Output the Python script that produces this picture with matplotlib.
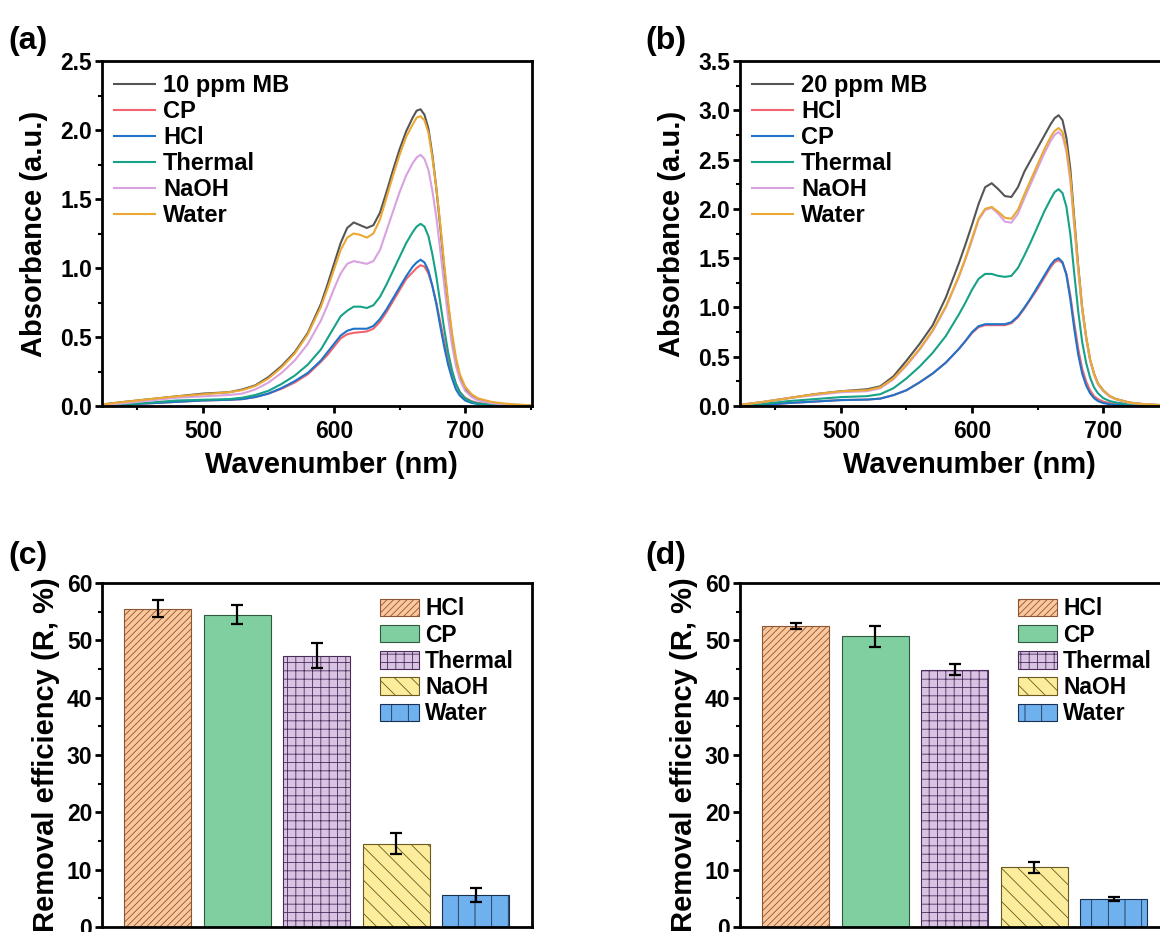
import matplotlib
matplotlib.use("Agg")
import matplotlib.pyplot as plt
from matplotlib.ticker import MultipleLocator, FormatStrFormatter

plt.rcParams['font.family'] = ['Liberation Sans', 'DejaVu Sans']
plt.rcParams['font.weight'] = 'bold'
plt.rcParams['hatch.linewidth'] = 0.6

# ---------------- data ----------------
wl = [422, 440, 460, 480, 500, 520, 530, 540, 550, 560, 570, 580, 590, 595, 600, 605, 610, 615, 620,
      625, 630, 635, 640, 645, 650, 655, 660, 663, 666, 669, 672, 675, 678, 681, 684, 687, 690, 693,
      696, 700, 705, 710, 720, 730, 740, 752]

# panel (a): 10 ppm
a_mb = [0.01, 0.03, 0.05, 0.07, 0.09, 0.10, 0.12, 0.15, 0.21, 0.29, 0.39, 0.53, 0.74, 0.88, 1.03, 1.18, 1.29, 1.33,
        1.31, 1.29, 1.31, 1.40, 1.55, 1.71, 1.86, 1.99, 2.09, 2.14, 2.15, 2.11, 2.01, 1.82, 1.58, 1.30, 1.00, 0.73,
        0.50, 0.32, 0.21, 0.12, 0.07, 0.045, 0.02, 0.012, 0.008, 0.005]
a_cp = [0.003, 0.01, 0.02, 0.03, 0.04, 0.045, 0.05, 0.065, 0.09, 0.125, 0.17, 0.23, 0.32, 0.37, 0.43, 0.49, 0.52, 0.53,
        0.535, 0.54, 0.56, 0.61, 0.68, 0.76, 0.84, 0.92, 0.97, 1.00, 1.02, 1.01, 0.96, 0.87, 0.75, 0.61, 0.47, 0.34,
        0.24, 0.16, 0.10, 0.06, 0.035, 0.022, 0.012, 0.007, 0.004, 0.002]
a_hcl = [0.003, 0.01, 0.02, 0.03, 0.04, 0.045, 0.05, 0.065, 0.09, 0.13, 0.18, 0.24, 0.33, 0.39, 0.45, 0.51, 0.545, 0.56,
         0.56, 0.56, 0.58, 0.63, 0.70, 0.78, 0.86, 0.94, 1.01, 1.04, 1.06, 1.04, 0.98, 0.87, 0.74, 0.58, 0.43, 0.30,
         0.20, 0.12, 0.075, 0.04, 0.022, 0.014, 0.008, 0.005, 0.003, 0.002]
a_thermal = [0.005, 0.01, 0.025, 0.04, 0.045, 0.05, 0.06, 0.08, 0.11, 0.16, 0.22, 0.30, 0.41, 0.49, 0.57, 0.65, 0.69,
             0.72, 0.72, 0.71, 0.73, 0.79, 0.88, 0.98, 1.08, 1.18, 1.26, 1.30, 1.32, 1.30, 1.23, 1.10, 0.94, 0.75,
             0.56, 0.39, 0.26, 0.16, 0.10, 0.055, 0.03, 0.018, 0.01, 0.006, 0.004, 0.002]
a_naoh = [0.005, 0.02, 0.04, 0.06, 0.07, 0.08, 0.09, 0.12, 0.17, 0.24, 0.33, 0.45, 0.62, 0.73, 0.85, 0.96, 1.03, 1.05,
          1.04, 1.03, 1.05, 1.13, 1.27, 1.41, 1.55, 1.67, 1.76, 1.80, 1.82, 1.79, 1.71, 1.56, 1.37, 1.13, 0.88, 0.64,
          0.44, 0.29, 0.19, 0.11, 0.065, 0.04, 0.02, 0.012, 0.008, 0.004]
a_water = [0.01, 0.03, 0.05, 0.07, 0.085, 0.10, 0.115, 0.145, 0.20, 0.28, 0.38, 0.52, 0.72, 0.85, 0.99, 1.13, 1.22,
           1.25, 1.24, 1.22, 1.25, 1.35, 1.51, 1.67, 1.82, 1.95, 2.04, 2.09, 2.10, 2.07, 1.98, 1.80, 1.58, 1.32, 1.03,
           0.76, 0.53, 0.35, 0.23, 0.14, 0.085, 0.055, 0.03, 0.018, 0.01, 0.005]

# panel (b): 20 ppm
b_mb = [0.01, 0.04, 0.08, 0.12, 0.15, 0.17, 0.20, 0.30, 0.46, 0.63, 0.82, 1.10, 1.45, 1.64, 1.84, 2.05, 2.22, 2.26,
        2.20, 2.13, 2.12, 2.22, 2.38, 2.50, 2.62, 2.74, 2.86, 2.92, 2.95, 2.90, 2.72, 2.40, 1.90, 1.42, 1.00, 0.70,
        0.47, 0.33, 0.23, 0.16, 0.10, 0.07, 0.035, 0.02, 0.012, 0.006]
b_hcl = [0.003, 0.01, 0.03, 0.045, 0.06, 0.065, 0.075, 0.11, 0.16, 0.24, 0.33, 0.44, 0.58, 0.66, 0.74, 0.80, 0.82, 0.82,
         0.82, 0.82, 0.84, 0.90, 0.99, 1.09, 1.19, 1.30, 1.41, 1.46, 1.48, 1.45, 1.34, 1.12, 0.84, 0.58, 0.38, 0.25,
         0.16, 0.10, 0.07, 0.045, 0.028, 0.018, 0.01, 0.006, 0.004, 0.002]
b_cp = [0.003, 0.01, 0.03, 0.045, 0.06, 0.065, 0.075, 0.11, 0.16, 0.24, 0.33, 0.44, 0.58, 0.66, 0.75, 0.81, 0.83, 0.83,
        0.83, 0.83, 0.85, 0.91, 1.00, 1.10, 1.21, 1.32, 1.43, 1.48, 1.50, 1.46, 1.33, 1.08, 0.78, 0.52, 0.33, 0.21,
        0.13, 0.08, 0.05, 0.03, 0.018, 0.012, 0.007, 0.004, 0.003, 0.002]
b_thermal = [0.005, 0.02, 0.05, 0.07, 0.09, 0.10, 0.12, 0.18, 0.28, 0.40, 0.54, 0.71, 0.93, 1.05, 1.18, 1.29, 1.34,
             1.34, 1.32, 1.31, 1.32, 1.40, 1.53, 1.67, 1.82, 1.97, 2.10, 2.17, 2.20, 2.16, 2.02, 1.74, 1.34, 0.96,
             0.65, 0.44, 0.29, 0.19, 0.13, 0.08, 0.05, 0.035, 0.018, 0.01, 0.006, 0.003]
b_naoh = [0.01, 0.04, 0.08, 0.11, 0.14, 0.15, 0.18, 0.27, 0.41, 0.57, 0.76, 1.00, 1.31, 1.49, 1.68, 1.89, 1.99, 2.01,
          1.95, 1.87, 1.86, 1.95, 2.11, 2.26, 2.41, 2.56, 2.69, 2.75, 2.78, 2.74, 2.58, 2.28, 1.82, 1.37, 0.97, 0.69,
          0.47, 0.32, 0.22, 0.15, 0.095, 0.065, 0.03, 0.02, 0.01, 0.005]
b_water = [0.01, 0.04, 0.08, 0.12, 0.15, 0.16, 0.19, 0.28, 0.42, 0.58, 0.77, 1.01, 1.32, 1.50, 1.70, 1.90, 2.00, 2.02,
           1.97, 1.91, 1.90, 1.99, 2.15, 2.30, 2.45, 2.60, 2.73, 2.79, 2.82, 2.78, 2.62, 2.32, 1.86, 1.40, 1.00, 0.71,
           0.48, 0.33, 0.23, 0.16, 0.10, 0.07, 0.035, 0.02, 0.012, 0.006]

# bar panels
bar_labels = ['HCl', 'CP', 'Thermal', 'NaOH', 'Water']
c_vals = [55.5, 54.5, 47.3, 14.5, 5.6]
c_errs = [1.5, 1.6, 2.2, 1.85, 1.2]
d_vals = [52.5, 50.7, 44.9, 10.4, 4.85]
d_errs = [0.5, 1.8, 0.95, 1.0, 0.3]

# ---------------- style ----------------
col = {'MB': '#555555', 'red': '#f2646e', 'blue': '#1f74c9', 'Thermal': '#17a287',
       'NaOH': '#d8a2e0', 'Water': '#eaa834'}
bar_face = ['#fdc79c', '#80cfa0', '#d9c3e3', '#fbed9c', '#6fb0ef']
bar_edge = ['#8a5634', '#2f5a40', '#4a2c5a', '#6a5a20', '#1a3050']
bar_hatch = ['/////', None, '++', '\\\\', '|']

W, H = 1160, 932
fig = plt.figure(figsize=(W / 100, H / 100), dpi=100)
fig.patch.set_facecolor('white')


def px_axes(left, top, right, bottom):
    return fig.add_axes([left / W, (H - bottom) / H, (right - left) / W, (bottom - top) / H])


def style(ax, major, minor, fmt):
    for s in ax.spines.values():
        s.set_linewidth(2.0)
    ax.yaxis.set_major_locator(MultipleLocator(major))
    ax.yaxis.set_minor_locator(MultipleLocator(minor))
    ax.yaxis.set_major_formatter(FormatStrFormatter(fmt))
    ax.tick_params(which='major', direction='out', length=5, width=2, labelsize=16.5, pad=2)
    ax.tick_params(axis='x', which='major', pad=5)
    ax.tick_params(which='minor', direction='out', length=3, width=1.5)
    ax.tick_params(top=False, right=False, which='both')
    for lab in ax.get_xticklabels() + ax.get_yticklabels():
        lab.set_fontweight('bold')


def spectrum(ax, series, ymax, major):
    for y, c, lab in series:
        ax.plot(wl, y, color=c, lw=1.5, label=lab, solid_joinstyle='round')
    ax.set_xlim(423, 751)
    ax.set_ylim(0, ymax)
    ax.xaxis.set_major_locator(MultipleLocator(100))
    ax.xaxis.set_minor_locator(MultipleLocator(50))
    style(ax, major, major / 2, '%.1f')
    ax.set_xlabel('Wavenumber (nm)', fontsize=21, fontweight='bold')
    ax.xaxis.set_label_coords(0.533, -0.13)
    ax.set_ylabel('Absorbance (a.u.)', fontsize=21, fontweight='bold')
    ax.yaxis.set_label_coords(-0.125, 0.5)
    ax.legend(loc='upper left', bbox_to_anchor=(0.028, 0.962), frameon=False, borderpad=0,
              borderaxespad=0, handlelength=1.74, handletextpad=0.34, labelspacing=0.13,
              prop={'size': 17, 'weight': 'bold'})


def bars(ax, vals, errs):
    x = list(range(1, len(vals) + 1))
    for i in range(len(vals)):
        ax.bar(x[i], vals[i], width=0.845, color=bar_face[i], edgecolor=bar_edge[i], lw=0.8,
               hatch=bar_hatch[i], label=bar_labels[i], zorder=2)
    ax.errorbar(x, vals, yerr=errs, fmt='none', ecolor='black', elinewidth=1.6, capsize=4,
                capthick=1.6, zorder=3)
    ax.set_xlim(0.3, 5.71)
    ax.set_ylim(0, 60)
    ax.set_xticks([])
    style(ax, 10, 5, '%d')
    ax.set_ylabel('Removal efficiency (R, %)', fontsize=21, fontweight='bold')
    ax.yaxis.set_label_coords(-0.098, 0.5)
    ax.legend(loc='upper left', bbox_to_anchor=(0.647, 0.958), frameon=False, borderpad=0,
              borderaxespad=0, handlelength=1.7, handleheight=0.79, handletextpad=0.26,
              labelspacing=0.14, prop={'size': 16.5, 'weight': 'bold'})


ax_a = px_axes(102, 61, 532, 406)
spectrum(ax_a, [(a_mb, col['MB'], '10 ppm MB'), (a_cp, col['red'], 'CP'), (a_hcl, col['blue'], 'HCl'),
                (a_thermal, col['Thermal'], 'Thermal'), (a_naoh, col['NaOH'], 'NaOH'),
                (a_water, col['Water'], 'Water')], 2.5, 0.5)

ax_b = px_axes(740, 61, 1170, 406)
spectrum(ax_b, [(b_mb, col['MB'], '20 ppm MB'), (b_hcl, col['red'], 'HCl'), (b_cp, col['blue'], 'CP'),
                (b_thermal, col['Thermal'], 'Thermal'), (b_naoh, col['NaOH'], 'NaOH'),
                (b_water, col['Water'], 'Water')], 3.5, 0.5)

ax_c = px_axes(102, 583, 532, 927)
bars(ax_c, c_vals, c_errs)

ax_d = px_axes(740, 583, 1170, 927)
bars(ax_d, d_vals, d_errs)

for lab, x, y in [('(a)', 8, 41), ('(b)', 645, 41), ('(c)', 8, 556), ('(d)', 645, 556)]:
    fig.text(x / W, 1 - y / H, lab, ha='left', va='center', fontsize=23, fontweight='bold')

fig.savefig('out.png', dpi=100, facecolor='white')
